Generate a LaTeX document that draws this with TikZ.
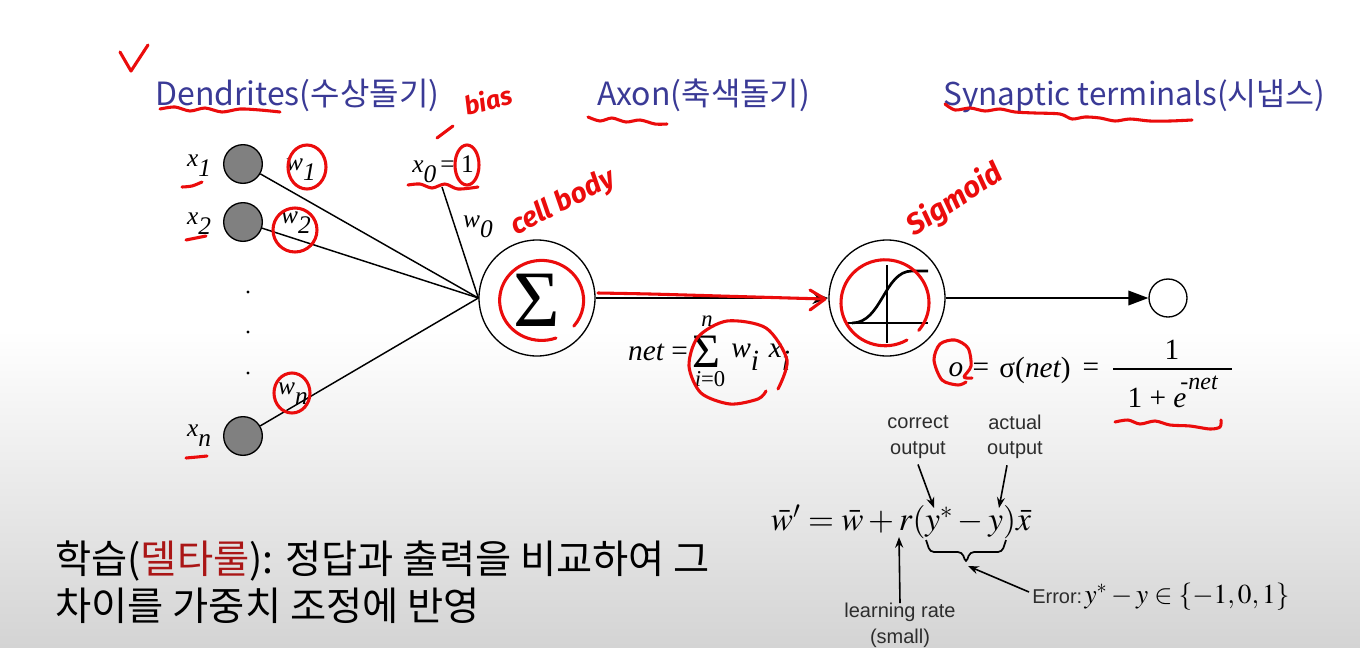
\documentclass[tikz,border=0pt]{standalone}
\usepackage{mathptmx}
\usepackage{fontspec}
\setmainfont{Liberation Serif}
\newfontfamily\kr{Noto Sans CJK KR}
\newfontfamily\arial{Liberation Sans}
\newfontfamily\hand{Fira Sans}
\usetikzlibrary{arrows.meta,calc}
\definecolor{titleblue}{RGB}{58,58,150}
\definecolor{pen}{RGB}{235,12,12}
\definecolor{dred}{RGB}{170,22,22}
\definecolor{bottomgray}{RGB}{212,212,212}
\definecolor{ingray}{RGB}{128,128,128}
\definecolor{txtgray}{RGB}{45,45,45}
\begin{document}
\begin{tikzpicture}[x=0.75pt,y=-0.75pt,
  title/.style={font=\kr\fontsize{24}{28}\selectfont, text=titleblue, inner sep=0pt},
  ink/.style={draw=pen, line width=2.3pt, line cap=round, line join=round},
  handtext/.style={text=pen, font=\hand\bfseries\itshape\fontsize{21}{22}\selectfont, inner sep=0pt},
  inp/.style={circle, draw=black, fill=ingray, line width=1pt, minimum size=29pt, inner sep=0pt},
  unit/.style={circle, draw=black, line width=1pt, minimum size=87pt, inner sep=0pt},
  wire/.style={draw=black, line width=1.1pt},
  lbl/.style={font=\fontsize{19}{22}\selectfont, inner sep=0pt},
  flbl/.style={font=\fontsize{22}{24}\selectfont, inner sep=0pt},
  small/.style={font=\arial\fontsize{15}{19}\selectfont, text=txtgray, align=center, inner sep=0pt},
  kline/.style={anchor=west, inner sep=0pt, font=\kr\fontsize{29.5}{34}\selectfont, text=black},
  dotn/.style={circle, fill=black, inner sep=0pt, minimum size=2.6pt},
  arr/.style={line width=1.2pt,-{Stealth[length=8pt,width=6pt]}}
]
\useasboundingbox (0,0) rectangle (1360,647);
\fill[white] (0,0) rectangle (1360,330);
\shade[top color=white,bottom color=bottomgray] (0,330) rectangle (1360,647);

% titles
\node[title, anchor=base west] (dend) at (155,105) {Dendrites(수상돌기)};
\node[title, anchor=base west] (axon) at (597,105) {Axon(축색돌기)};
\node[title, anchor=base west, font=\kr\fontsize{23.6}{28}\selectfont] (syn) at (943,105) {Synaptic terminals(시냅스)};

% inputs
\node[inp] (x1) at (243,164) {};
\node[inp] (x2) at (243,222) {};
\node[inp] (xn) at (243,436) {};
\node[dotn] (d1) at (248,292) {};
\node[dotn] (d2) at (248,332) {};
\node[dotn] (d3) at (248,373) {};

\node[lbl] (lx1) at (199,166) {\itshape x\raisebox{-0.4em}{1}};
\node[lbl] (lx2) at (199,224) {\itshape x\raisebox{-0.4em}{2}};
\node[lbl] (lxn) at (199,436) {\itshape x\raisebox{-0.4em}{n}};
\node[lbl] (lw1) at (301,170) {\itshape w\raisebox{-0.4em}{1}};
\node[lbl] (lw2) at (296,223) {\itshape w\raisebox{-0.4em}{2}};
\node[lbl] (lwn) at (293,394) {\itshape w\raisebox{-0.4em}{n}};
\node[lbl] (lw0) at (478,227) {\itshape w\raisebox{-0.4em}{0}};
\node[lbl] (lx0) at (443,169) {\itshape x\raisebox{-0.4em}{0}\,{\upshape = 1}};
\coordinate (x0foot) at (442,187);

% units
\node[unit] (sum) at (537,298) {};
\node[inner sep=0pt, font=\fontsize{60}{60}\selectfont] (sigma) at (537,300) {Σ};
\node[unit] (sig) at (887,298) {};
\node[circle, draw=black, line width=1pt, minimum size=28.5pt, inner sep=0pt] (out) at (1168,298) {};

\draw[wire] (x1) -- (sum.west);
\draw[wire] (x2) -- (sum.west);
\draw[wire] (xn) -- (sum.west);
\draw[wire] (x0foot) -- (sum.west);
\draw[wire,-{Stealth[length=12pt,width=9pt]}] (sum) -- (sig);
\draw[wire,-{Triangle[length=15pt,width=11pt]}] (sig) -- (out);

% sigmoid glyph
\draw[line width=2pt] (847,323) -- (928,323);
\draw[line width=2pt] (887,265) -- (887,343);
\draw[line width=2pt] (852,323) .. controls (882,323) and (884,271) .. (912,271) -- (928,271);

% net formula
\node[flbl] (netl) at (658,352) {\itshape net\upshape{} =};
\node[inner sep=0pt, font=\fontsize{36}{36}\selectfont] (netsum) at (706,352) {Σ};
\node[font=\fontsize{17}{18}\selectfont\itshape, inner sep=0pt] (netn) at (707,321) {n};
\node[font=\fontsize{17}{18}\selectfont, inner sep=0pt] (neti) at (710,379) {\itshape i\upshape =0};
\node[flbl, anchor=west] (netw) at (731,357) {\itshape w\raisebox{-0.45em}{i}\,\,x\raisebox{-0.45em}{i}};
% sigma formula
\node[flbl] (oo) at (956,370) {\itshape o};
\node[flbl] (eq1) at (981,370) {=};
\node[flbl] (sgn) at (1035,370) {σ(\itshape net\upshape)};
\node[flbl] (eq2) at (1091,370) {=};
\coordinate (fracL) at (1113,369);
\coordinate (fracR) at (1232,369);
\draw[line width=1.5pt] (fracL) -- (fracR);
\node[flbl] (num) at (1172,350) {1};
\node[flbl] (den) at (1157,398) {1 + \itshape e};
\node[font=\fontsize{18}{20}\selectfont\itshape, inner sep=0pt] (denx) at (1199,383) {-net};

% learning rule
\node[small] (corr) at (918,437) {correct\\output};
\node[small] (act) at (1015,437) {actual\\output};
\node[inner sep=0pt, font=\fontsize{25}{28}\selectfont] (eq) at (901,522) {$\bar{w}' = \bar{w} + r(y^{*} - y)\bar{x}$};
\coordinate (ystar) at (934,508);
\coordinate (yact) at (999,508);
\coordinate (rr) at (899,537);
\coordinate (btip) at (968,566);
\draw[arr] (corr.south) ++(0,6) coordinate (cs) -- (ystar);
\draw[arr] (act.south) ++(-8,6) coordinate (as) -- (yact);
\draw[line width=1.3pt, rounded corners=3pt] (926,540) -- (930,552) -- (962,552) -- (966,563) -- (970,552) -- (1002,552) -- (1006,540);
\node[small, anchor=north] (lr) at (900,603) {learning rate\\(small)};
\draw[arr] (lr.north) -- (rr);
\node[anchor=west, inner sep=0pt] (err) at (1032,597) {{\arial\fontsize{15}{17}\selectfont\color{txtgray}Error:}\,{\fontsize{20.5}{24}\selectfont$y^{*} - y \in \{-1,0,1\}$}};
\draw[arr] (err.west) ++(-3,-5) coordinate (es) -- (btip);

% bottom Korean text
\node[kline] (kor1) at (55,561) {학습(\textcolor{dred}{델타룰}): 정답과 출력을 비교하여 그};
\node[kline] (kor2) at (55,606) {차이를 가중치 조정에 반영};

% ---------- red hand annotations ----------
\draw[ink] (120,52) -- (131,71) -- (148,45);
\draw[ink] plot[smooth] coordinates {(160,109) (175,107) (190,111) (205,108) (222,112) (240,109) (260,110) (280,112)};
\draw[ink] plot[smooth] coordinates {(588,117) (600,121) (612,118) (626,122) (640,120) (655,124) (667,124)};
\draw[ink] plot[smooth] coordinates {(945,104) (955,110) (970,108) (985,111) (1000,109) (1015,112) (1035,113) (1060,114) (1072,119) (1085,117) (1100,118) (1115,121) (1130,119) (1150,121) (1170,121) (1192,120)};
\node[handtext, rotate=15, font=\hand\bfseries\itshape\fontsize{19}{20}\selectfont] (bias) at (488,100) {bias};
\draw[ink] (437,138) -- (453,126);
\draw[ink] plot[smooth] coordinates {(182,187) (192,186) (202,182)};
\draw[ink] plot[smooth] coordinates {(186,240) (196,238) (206,236)};
\draw[ink] plot[smooth] coordinates {(186,458) (197,457) (207,456)};
\draw[ink] plot[smooth] coordinates {(408,185) (420,184) (432,188) (445,184) (458,189) (478,187)};
\draw[ink] (467,165) ellipse [x radius=12, y radius=20];
\draw[ink] (307,167) ellipse [x radius=19, y radius=22];
\draw[ink] (295,230) ellipse [x radius=22, y radius=22];
\draw[ink] (292,393) ellipse [x radius=18, y radius=20];
\node[handtext, rotate=27] (cell) at (563,203) {cell body};
\draw[ink] (556,338) arc[start angle=70, end angle=400, x radius=42, y radius=40];
\draw[ink] plot[smooth] coordinates {(598,293) (650,294) (720,296) (824,299)};
\draw[ink] (810,290) -- (825,299) -- (810,310);
\node[handtext, rotate=33, font=\hand\bfseries\itshape\fontsize{22}{24}\selectfont] (sgm) at (955,200) {Sigmoid};
\draw[ink] (907,340) arc[start angle=60, end angle=400, x radius=44, y radius=43];
\draw[ink] plot[smooth] coordinates {(766,391) (758,399) (730,404) (701,393) (689,366) (698,337) (727,321) (766,328) (787,360) (778,389)};
\draw[ink] plot[smooth] coordinates {(966,382) (958,385) (942,380) (934,360) (940,344) (955,340) (968,348) (971,366) (964,377) (972,378)};
\draw[ink] plot[smooth] coordinates {(1115,422) (1128,420) (1140,424) (1155,421) (1170,425) (1190,426) (1210,429) (1220,427) (1221,420)};
\end{tikzpicture}
\end{document}
